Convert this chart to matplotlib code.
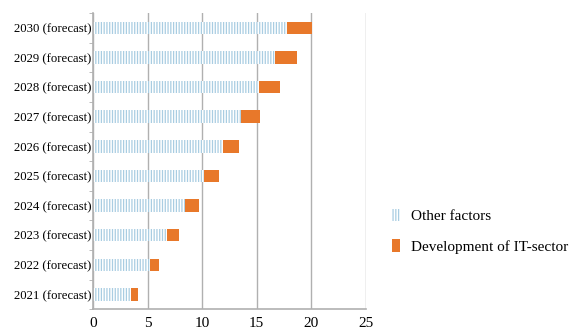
import matplotlib
matplotlib.use("Agg")
import matplotlib.pyplot as plt
import numpy as np

categories = ["2021 (forecast)", "2022 (forecast)", "2023 (forecast)", "2024 (forecast)",
              "2025 (forecast)", "2026 (forecast)", "2027 (forecast)", "2028 (forecast)",
              "2029 (forecast)", "2030 (forecast)"]
other_factors = [3.45, 5.25, 6.8, 8.45, 10.2, 11.9, 13.6, 15.2, 16.7, 17.8]
it_sector = [0.65, 0.8, 1.1, 1.25, 1.3, 1.5, 1.7, 1.9, 2.0, 2.25]
x_ticks = [0, 5, 10, 15, 20, 25]

plt.rcParams['font.family'] = ['Liberation Serif', 'DejaVu Serif']
plt.rcParams['hatch.linewidth'] = 0.9

blue = "#a9cde2"
orange = "#e8782a"
grey = "#b0b0b0"

fig = plt.figure(figsize=(5.78, 3.36), dpi=100)
ax = fig.add_axes([0.161, 0.080, 0.472, 0.881])

y = np.arange(len(categories))
h = 0.42
b1 = ax.barh(y, other_factors, height=h, color="white", edgecolor=blue, linewidth=0,
             hatch="||||||", label="Other factors", zorder=2)
b2 = ax.barh(y, it_sector, left=other_factors, height=h, color=orange, linewidth=0,
             label="Development of IT-sector", zorder=2)

ax.set_xlim(0, 25)
ax.set_ylim(-0.5, len(categories) - 0.5)
ax.set_xticks(x_ticks)
ax.set_xticklabels([str(t) for t in x_ticks], fontsize=11)
ax.set_yticks(y)
ax.set_yticklabels(categories, fontsize=9.2)
ax.set_yticks(np.arange(-0.5, len(categories), 1), minor=True)
ax.tick_params(axis='y', which='major', length=0, pad=1)
ax.tick_params(axis='y', which='minor', length=3, color=grey, direction='out')
ax.tick_params(axis='x', length=0, pad=6)
ax.grid(axis='x', color=grey, linewidth=1, zorder=0)
ax.set_axisbelow(True)
for s in ['top', 'right']:
    ax.spines[s].set_visible(False)
ax.spines['left'].set_color(grey)
ax.spines['bottom'].set_color(grey)
ax.spines['left'].set_linewidth(1.2)
ax.spines['bottom'].set_linewidth(1.2)

fig.legend(handles=[b1, b2], loc='upper left', bbox_to_anchor=(0.655, 0.42),
           frameon=False, fontsize=11, handlelength=0.5, handleheight=0.9,
           handletextpad=0.7, labelspacing=1.05)

fig.savefig("out.png", dpi=100)
